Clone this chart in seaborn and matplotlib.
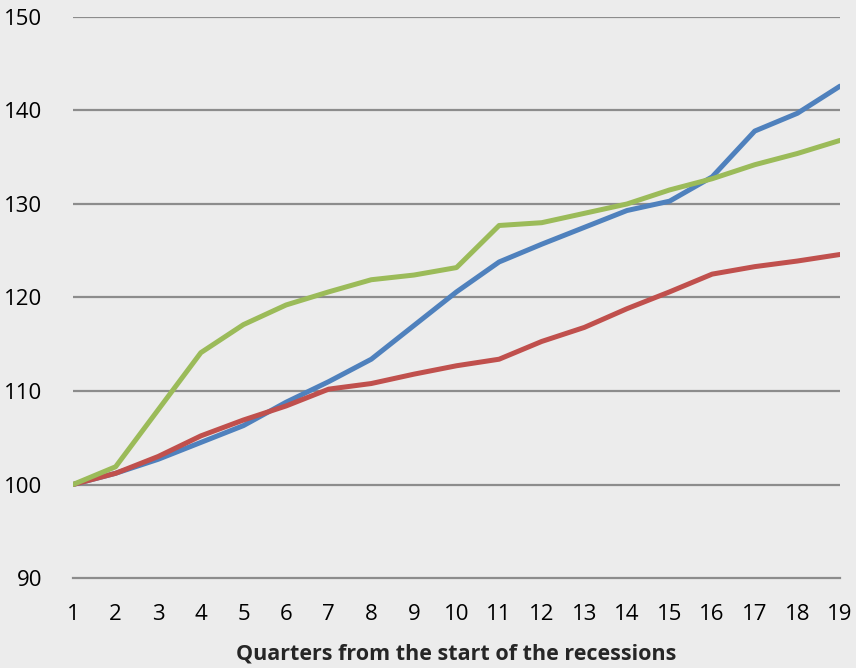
import numpy as np
import pandas as pd
import matplotlib
matplotlib.use("Agg")
import matplotlib.pyplot as plt
import seaborn as sns

quarters = list(range(1, 20))
blue_series = [100, 101.2, 102.7, 104.5, 106.3, 108.8, 111.0, 113.4, 117.0, 120.6,
               123.8, 125.7, 127.5, 129.3, 130.3, 132.9, 137.8, 139.7, 142.6]
red_series = [100, 101.2, 103.0, 105.2, 106.9, 108.4, 110.2, 110.8, 111.8, 112.7,
              113.4, 115.3, 116.8, 118.8, 120.6, 122.5, 123.3, 123.9, 124.6]
green_series = [100, 101.9, 108.0, 114.1, 117.1, 119.2, 120.6, 121.9, 122.4, 123.2,
                127.7, 128.0, 129.0, 130.0, 131.5, 132.7, 134.2, 135.4, 136.8]
y_ticks = [90, 100, 110, 120, 130, 140, 150]

df = pd.DataFrame({
    'quarter': quarters * 3,
    'value': blue_series + red_series + green_series,
    'series': ['blue'] * 19 + ['red'] * 19 + ['green'] * 19,
})
palette = {'blue': '#4F81BD', 'red': '#C0504D', 'green': '#9BBB59'}

sns.set_style("white")
plt.rcParams['font.family'] = ['Open Sans', 'DejaVu Sans']

fig = plt.figure(figsize=(8.56, 6.68), dpi=100)
fig.patch.set_facecolor('#ECECEC')
ax = fig.add_axes([0.0853, 0.1347, 0.8960, 0.8399])
ax.set_facecolor('#ECECEC')

for y in y_ticks[1:]:
    ax.axhline(y, color='#8C8C8C', lw=1.6, zorder=1)

sns.lineplot(data=df, x='quarter', y='value', hue='series', palette=palette,
             linewidth=3.6, legend=False, ax=ax, zorder=3)

ax.set_xlim(1, 19)
ax.set_ylim(90, 150)
ax.set_xticks(quarters)
ax.set_yticks(y_ticks)
ax.set_ylabel('')
ax.set_xlabel('Quarters from the start of the recessions', fontsize=15.5,
              fontweight='bold', labelpad=13)
for s in ['top', 'right', 'left']:
    ax.spines[s].set_visible(False)
ax.spines['bottom'].set_color('#8C8C8C')
ax.spines['bottom'].set_linewidth(1.6)
ax.tick_params(axis='x', direction='in', length=6, width=1.2, color='#8C8C8C',
               labelsize=16, pad=19, labelcolor='black')
ax.tick_params(axis='y', length=0, labelsize=16, pad=22, labelcolor='black')

fig.savefig('out.png', dpi=100, facecolor=fig.get_facecolor())
